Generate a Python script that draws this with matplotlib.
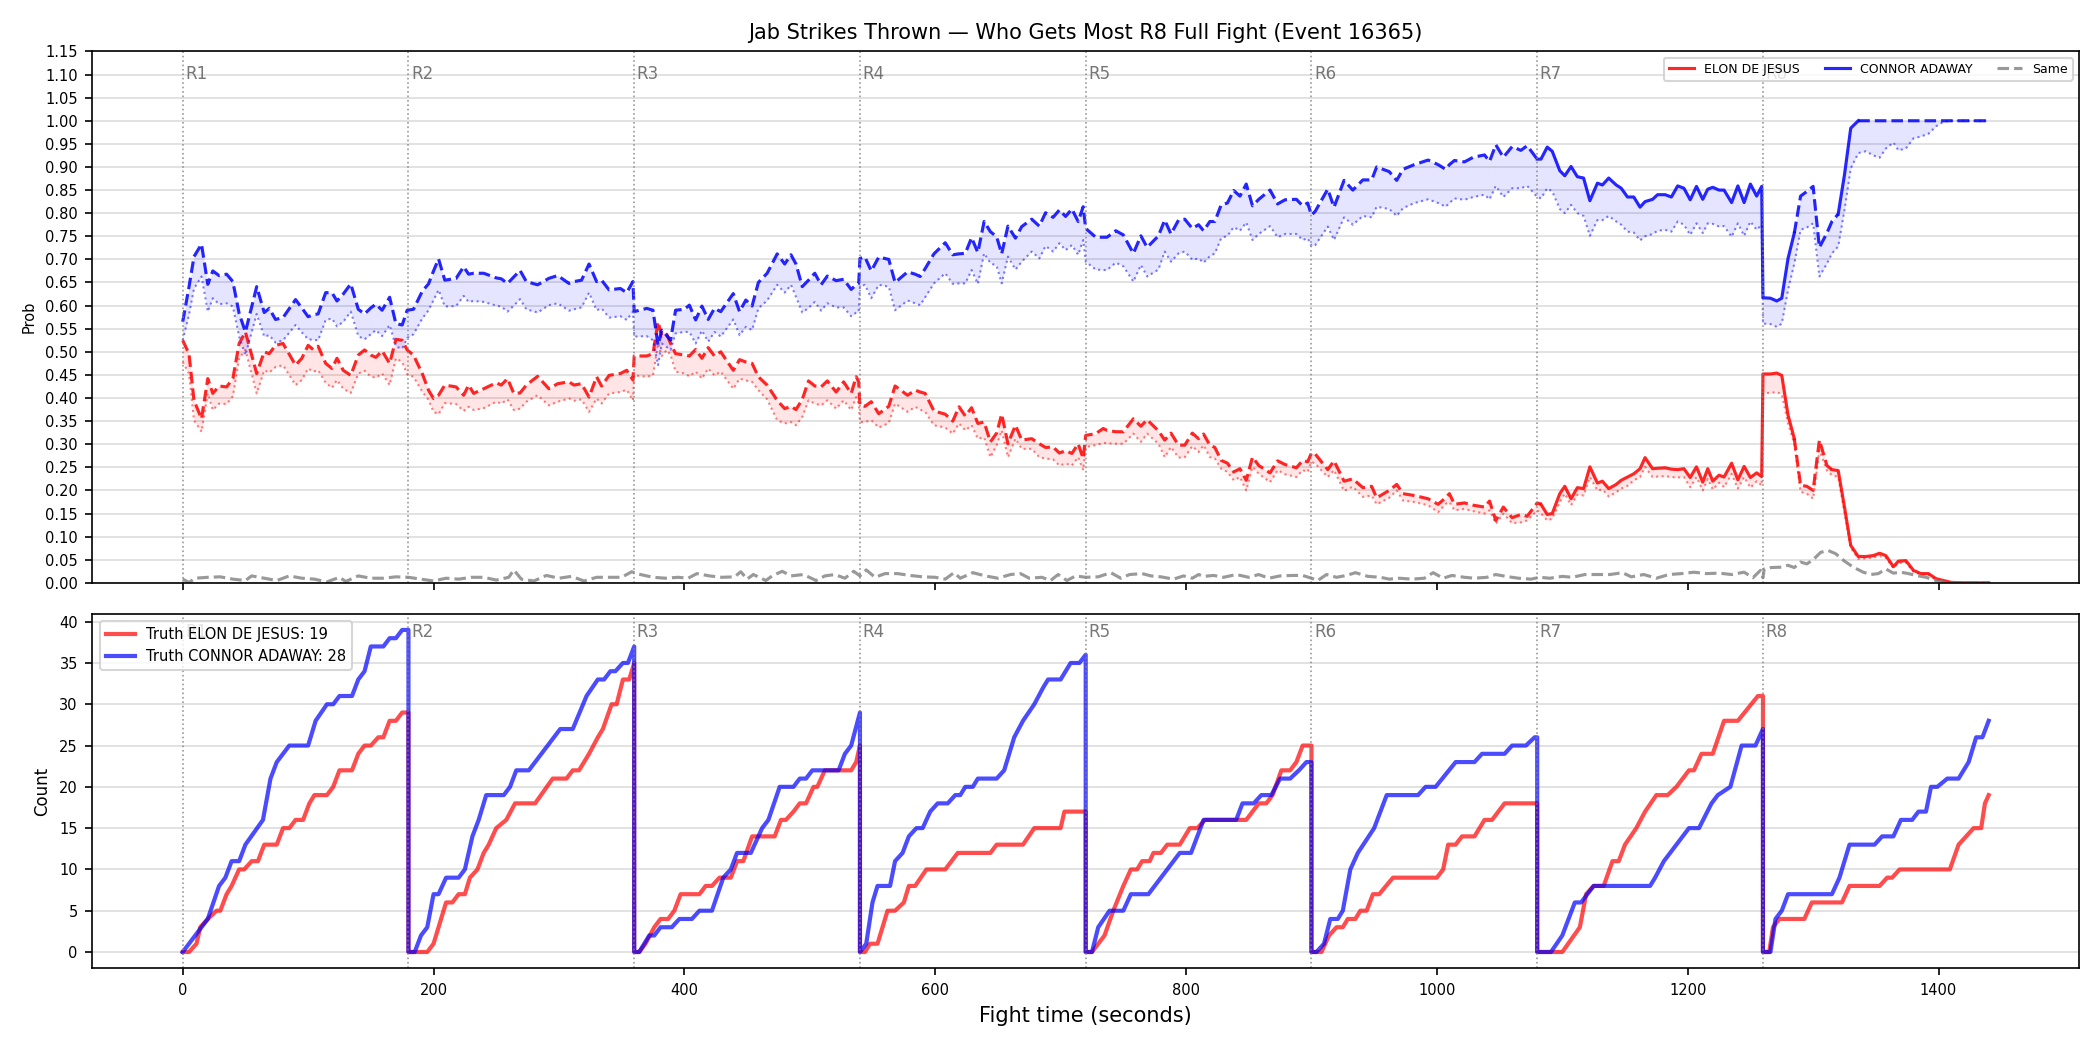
import numpy as np
import matplotlib
matplotlib.use("Agg")
import matplotlib.pyplot as plt
import matplotlib.transforms as mtransforms

# ---------------- data ----------------
red_name = "ELON DE JESUS"
blue_name = "CONNOR ADAWAY"
title = "Jab Strikes Thrown \u2014 Who Gets Most R8 Full Fight (Event 16365)"
round_starts = [0, 180, 360, 540, 720, 900, 1080, 1260]
round_labels = ["R1", "R2", "R3", "R4", "R5", "R6", "R7", "R8"]

# probability time grid (seconds)
t_prob = [0, 5, 9, 15, 20, 24, 29, 35, 40, 45, 50, 59, 65, 69, 74, 80, 90, 95, 100, 104,
          108, 114, 119, 123, 128, 134, 140, 145, 150, 154, 159, 165, 170, 175, 179, 184, 191, 196, 200, 204,
          209, 218, 224, 228, 232, 240, 250, 254, 259, 264, 269, 274, 283, 292, 299, 308, 312, 318, 324, 330,
          334, 340, 349, 354, 359, 360, 370, 375, 379, 382, 386, 389, 393, 400,
          404, 409, 414, 419, 424, 429, 439, 444, 449, 454, 459, 466, 474, 480, 485, 489, 494, 499, 504, 509,
          514, 521, 527, 533, 537, 539, 540, 544, 549, 555, 563, 568, 578, 584, 588, 592, 599, 608, 614, 619,
          624, 629, 634, 639, 644, 649, 653, 658, 664, 669, 677, 683, 688, 694, 699, 704, 709, 714, 718, 720,
          728, 734, 737, 744, 750, 758, 764, 769, 778, 783, 788, 794, 799, 805, 810,
          814, 819, 823, 828, 833, 838, 843, 848, 853, 858, 867, 873, 879, 888, 893, 897, 900, 903, 913, 918,
          926, 933, 941, 948, 952, 962, 968, 973, 982, 993, 1001, 1007, 1010, 1014, 1022, 1029, 1038, 1042, 1047, 1053,
          1060, 1067, 1072, 1080, 1083, 1088, 1092, 1098, 1102, 1107, 1112, 1117, 1122, 1128, 1132, 1137, 1143, 1147, 1152, 1157,
          1162, 1166, 1172, 1176, 1182, 1187, 1192, 1197, 1202, 1207, 1212, 1216,
          1220, 1225, 1229, 1235, 1240, 1245, 1250, 1255, 1259, 1260, 1266, 1271, 1275, 1280, 1285, 1290, 1295, 1300, 1305, 1311,
          1315, 1320, 1325, 1330, 1336, 1342, 1348, 1353, 1358, 1364, 1368, 1374, 1380, 1386, 1392, 1398, 1404, 1410, 1420, 1430, 1440]

blue_hi = [0.565, 0.640, 0.706, 0.733, 0.646, 0.675, 0.665, 0.668, 0.652, 0.583, 0.543, 0.641, 0.585, 0.594, 0.570, 0.574, 0.613, 0.595, 0.576, 0.580,
           0.582, 0.628, 0.628, 0.610, 0.625, 0.647, 0.592, 0.582, 0.595, 0.603, 0.590, 0.618, 0.561, 0.558, 0.590, 0.592, 0.631, 0.647, 0.675, 0.701,
           0.655, 0.659, 0.684, 0.668, 0.670, 0.670, 0.660, 0.658, 0.648, 0.662, 0.676, 0.652, 0.645, 0.659, 0.665, 0.648, 0.652, 0.655, 0.690, 0.652,
           0.655, 0.634, 0.637, 0.628, 0.652, 0.587, 0.594, 0.590, 0.514, 0.547, 0.535, 0.525, 0.590, 0.592,
           0.601, 0.569, 0.599, 0.570, 0.594, 0.587, 0.626, 0.587, 0.612, 0.599, 0.650, 0.670, 0.712, 0.690, 0.710, 0.690, 0.641, 0.655, 0.670, 0.645,
           0.664, 0.654, 0.657, 0.635, 0.645, 0.648, 0.702, 0.705, 0.675, 0.705, 0.700, 0.650, 0.673, 0.668, 0.663, 0.680, 0.712, 0.736, 0.710, 0.712,
           0.713, 0.747, 0.715, 0.782, 0.760, 0.749, 0.712, 0.772, 0.746, 0.771, 0.787, 0.772, 0.801, 0.791, 0.807, 0.793, 0.809, 0.782, 0.814, 0.767,
           0.748, 0.748, 0.748, 0.762, 0.753, 0.713, 0.751, 0.726, 0.751, 0.785, 0.755, 0.785, 0.787, 0.767, 0.775,
           0.762, 0.782, 0.782, 0.818, 0.822, 0.849, 0.837, 0.863, 0.816, 0.830, 0.850, 0.820, 0.829, 0.830, 0.816, 0.822, 0.796, 0.804, 0.852, 0.813,
           0.871, 0.850, 0.872, 0.872, 0.900, 0.890, 0.871, 0.895, 0.905, 0.915, 0.905, 0.895, 0.905, 0.914, 0.911, 0.921, 0.926, 0.912, 0.948, 0.921,
           0.944, 0.936, 0.946, 0.917, 0.917, 0.943, 0.934, 0.892, 0.881, 0.901, 0.879, 0.876, 0.827, 0.865, 0.861, 0.876, 0.861, 0.854, 0.835, 0.835,
           0.813, 0.825, 0.830, 0.840, 0.840, 0.835, 0.859, 0.854, 0.829, 0.858, 0.830, 0.852,
           0.856, 0.850, 0.850, 0.823, 0.859, 0.823, 0.863, 0.837, 0.858, 0.617, 0.616, 0.610, 0.616, 0.702, 0.757, 0.837, 0.847, 0.858, 0.726, 0.757,
           0.782, 0.798, 0.883, 0.984, 1.000, 1.000, 1.000, 1.000, 1.000, 1.000, 1.000, 1.000, 1.000, 1.000, 1.000, 1.000, 1.000, 1.000, 1.000, 1.000, 1.000]

blue_lo = [0.525, 0.580, 0.637, 0.663, 0.587, 0.616, 0.603, 0.605, 0.598, 0.533, 0.493, 0.582, 0.533, 0.536, 0.520, 0.525, 0.558, 0.542, 0.527, 0.526,
           0.525, 0.569, 0.572, 0.555, 0.565, 0.587, 0.534, 0.527, 0.538, 0.547, 0.534, 0.558, 0.511, 0.507, 0.530, 0.538, 0.572, 0.590, 0.612, 0.634,
           0.598, 0.599, 0.621, 0.608, 0.610, 0.608, 0.600, 0.598, 0.587, 0.600, 0.614, 0.592, 0.585, 0.601, 0.605, 0.589, 0.592, 0.596, 0.628, 0.590,
           0.594, 0.574, 0.577, 0.569, 0.587, 0.533, 0.534, 0.525, 0.471, 0.518, 0.510, 0.504, 0.540, 0.543,
           0.543, 0.518, 0.546, 0.522, 0.543, 0.533, 0.570, 0.536, 0.554, 0.547, 0.594, 0.611, 0.645, 0.628, 0.645, 0.619, 0.585, 0.595, 0.608, 0.589,
           0.605, 0.596, 0.596, 0.577, 0.585, 0.587, 0.641, 0.645, 0.616, 0.645, 0.641, 0.590, 0.611, 0.605, 0.601, 0.618, 0.648, 0.670, 0.647, 0.648,
           0.648, 0.677, 0.647, 0.713, 0.692, 0.686, 0.648, 0.706, 0.678, 0.695, 0.717, 0.702, 0.729, 0.717, 0.735, 0.720, 0.731, 0.710, 0.742, 0.695,
           0.678, 0.677, 0.677, 0.693, 0.685, 0.652, 0.688, 0.663, 0.678, 0.717, 0.695, 0.713, 0.717, 0.699, 0.702,
           0.693, 0.707, 0.713, 0.746, 0.751, 0.770, 0.762, 0.780, 0.742, 0.755, 0.772, 0.748, 0.755, 0.755, 0.742, 0.746, 0.729, 0.731, 0.771, 0.742,
           0.791, 0.775, 0.794, 0.791, 0.814, 0.809, 0.794, 0.811, 0.822, 0.830, 0.822, 0.814, 0.822, 0.832, 0.829, 0.835, 0.840, 0.830, 0.859, 0.835,
           0.854, 0.854, 0.859, 0.835, 0.832, 0.854, 0.847, 0.809, 0.800, 0.818, 0.800, 0.794, 0.751, 0.785, 0.785, 0.794, 0.782, 0.775, 0.760, 0.758,
           0.741, 0.750, 0.755, 0.762, 0.764, 0.760, 0.782, 0.775, 0.753, 0.778, 0.757, 0.778,
           0.777, 0.771, 0.772, 0.749, 0.778, 0.751, 0.782, 0.764, 0.775, 0.561, 0.560, 0.554, 0.561, 0.634, 0.691, 0.764, 0.769, 0.778, 0.663, 0.691,
           0.713, 0.728, 0.807, 0.897, 0.930, 0.934, 0.925, 0.920, 0.940, 0.953, 0.936, 0.940, 0.962, 0.966, 0.972, 0.988, 0.998, 1.000, 1.000, 1.000, 1.000]

red_hi = [0.525, 0.496, 0.395, 0.355, 0.442, 0.410, 0.426, 0.424, 0.442, 0.518, 0.543, 0.453, 0.500, 0.496, 0.514, 0.518, 0.471, 0.486, 0.514, 0.505,
          0.512, 0.475, 0.464, 0.486, 0.460, 0.449, 0.493, 0.504, 0.493, 0.488, 0.502, 0.475, 0.527, 0.525, 0.504, 0.493, 0.453, 0.417, 0.399, 0.406,
          0.428, 0.424, 0.406, 0.428, 0.410, 0.420, 0.433, 0.428, 0.442, 0.410, 0.411, 0.428, 0.447, 0.420, 0.431, 0.435, 0.428, 0.431, 0.402, 0.446,
          0.426, 0.449, 0.453, 0.460, 0.439, 0.491, 0.491, 0.496, 0.565, 0.534, 0.538, 0.518, 0.496, 0.493,
          0.491, 0.505, 0.486, 0.509, 0.491, 0.500, 0.460, 0.483, 0.478, 0.475, 0.446, 0.428, 0.395, 0.377, 0.382, 0.375, 0.397, 0.437, 0.426, 0.424,
          0.437, 0.413, 0.435, 0.410, 0.446, 0.435, 0.384, 0.382, 0.392, 0.366, 0.382, 0.426, 0.406, 0.417, 0.413, 0.410, 0.372, 0.365, 0.350, 0.381,
          0.361, 0.379, 0.345, 0.348, 0.305, 0.324, 0.365, 0.301, 0.341, 0.309, 0.312, 0.301, 0.293, 0.294, 0.281, 0.286, 0.280, 0.301, 0.269, 0.319,
          0.323, 0.334, 0.330, 0.327, 0.327, 0.355, 0.339, 0.353, 0.329, 0.309, 0.324, 0.298, 0.298, 0.324, 0.312,
          0.322, 0.298, 0.293, 0.265, 0.259, 0.240, 0.247, 0.222, 0.272, 0.254, 0.238, 0.264, 0.256, 0.249, 0.265, 0.262, 0.281, 0.279, 0.245, 0.264,
          0.220, 0.225, 0.206, 0.209, 0.184, 0.200, 0.213, 0.193, 0.189, 0.182, 0.170, 0.184, 0.193, 0.170, 0.173, 0.168, 0.164, 0.177, 0.135, 0.164,
          0.141, 0.148, 0.144, 0.173, 0.170, 0.148, 0.150, 0.193, 0.209, 0.182, 0.206, 0.204, 0.251, 0.216, 0.220, 0.204, 0.213, 0.222, 0.229, 0.236,
          0.247, 0.271, 0.247, 0.248, 0.249, 0.246, 0.245, 0.247, 0.228, 0.251, 0.218, 0.247,
          0.220, 0.233, 0.229, 0.259, 0.223, 0.252, 0.228, 0.238, 0.230, 0.452, 0.452, 0.454, 0.449, 0.363, 0.312, 0.211, 0.209, 0.200, 0.309, 0.254,
          0.245, 0.243, 0.164, 0.081, 0.057, 0.057, 0.059, 0.064, 0.059, 0.035, 0.047, 0.048, 0.027, 0.020, 0.020, 0.009, 0.005, 0.001, 0.000, 0.000, 0.000]

red_lo = [0.478, 0.453, 0.352, 0.327, 0.410, 0.374, 0.388, 0.387, 0.404, 0.486, 0.504, 0.410, 0.460, 0.455, 0.467, 0.471, 0.428, 0.439, 0.464, 0.457,
          0.460, 0.433, 0.422, 0.439, 0.420, 0.411, 0.453, 0.459, 0.446, 0.444, 0.453, 0.428, 0.486, 0.478, 0.451, 0.446, 0.414, 0.396, 0.370, 0.365,
          0.389, 0.387, 0.372, 0.381, 0.374, 0.378, 0.392, 0.388, 0.397, 0.374, 0.377, 0.392, 0.406, 0.384, 0.392, 0.399, 0.394, 0.397, 0.370, 0.399,
          0.388, 0.410, 0.413, 0.418, 0.395, 0.449, 0.446, 0.449, 0.518, 0.491, 0.504, 0.493, 0.457, 0.453,
          0.447, 0.457, 0.442, 0.464, 0.449, 0.457, 0.420, 0.442, 0.438, 0.435, 0.417, 0.397, 0.352, 0.345, 0.348, 0.341, 0.359, 0.395, 0.388, 0.384,
          0.395, 0.377, 0.395, 0.374, 0.402, 0.388, 0.348, 0.348, 0.352, 0.336, 0.346, 0.388, 0.370, 0.381, 0.375, 0.370, 0.341, 0.336, 0.323, 0.345,
          0.330, 0.341, 0.312, 0.315, 0.272, 0.298, 0.330, 0.272, 0.312, 0.290, 0.290, 0.272, 0.269, 0.267, 0.254, 0.258, 0.254, 0.272, 0.244, 0.294,
          0.298, 0.303, 0.302, 0.301, 0.301, 0.323, 0.305, 0.323, 0.301, 0.272, 0.294, 0.271, 0.272, 0.296, 0.283,
          0.298, 0.272, 0.269, 0.247, 0.240, 0.222, 0.229, 0.200, 0.251, 0.236, 0.218, 0.244, 0.235, 0.229, 0.244, 0.240, 0.262, 0.258, 0.229, 0.244,
          0.199, 0.208, 0.186, 0.189, 0.170, 0.184, 0.200, 0.178, 0.175, 0.168, 0.153, 0.171, 0.175, 0.157, 0.160, 0.155, 0.150, 0.157, 0.128, 0.150,
          0.129, 0.131, 0.135, 0.157, 0.150, 0.135, 0.139, 0.175, 0.193, 0.168, 0.191, 0.189, 0.229, 0.200, 0.202, 0.187, 0.196, 0.204, 0.210, 0.222,
          0.229, 0.251, 0.229, 0.230, 0.231, 0.229, 0.228, 0.229, 0.207, 0.229, 0.200, 0.225,
          0.202, 0.217, 0.207, 0.236, 0.204, 0.229, 0.206, 0.220, 0.211, 0.411, 0.411, 0.413, 0.408, 0.345, 0.301, 0.197, 0.193, 0.182, 0.287, 0.243,
          0.233, 0.229, 0.153, 0.076, 0.052, 0.053, 0.055, 0.058, 0.054, 0.032, 0.043, 0.044, 0.024, 0.018, 0.017, 0.007, 0.003, 0.000, 0.000, 0.000, 0.000]

# "Same" probability
t_same = [0, 5, 10, 20, 30, 40, 50, 55, 65, 75, 85, 95, 105, 115, 125, 130, 140, 150, 160, 170,
          180, 190, 200, 210, 220, 230, 240, 250, 260, 264, 270, 280, 290, 300, 310, 320, 330, 340, 350, 358,
          365, 375, 385, 395, 403, 410, 420, 430, 440, 445, 450, 455, 465, 470, 478, 485, 495, 505, 512, 520,
          528, 535, 540, 545, 552, 560, 570, 580, 590, 600, 608, 615, 620, 630, 640, 650, 660, 668, 675, 685,
          692, 698, 705, 712, 720, 730, 740, 748, 755, 765, 772, 780, 790, 798, 805, 810, 814, 822, 830, 840,
          850, 858, 866, 875, 885, 893, 900, 905, 912, 920, 928, 935, 945, 955, 962, 970, 980, 990, 997, 1005,
          1012, 1022, 1030, 1040, 1047, 1055, 1065, 1075, 1082, 1090, 1100, 1108, 1118, 1128, 1138, 1148, 1155, 1165, 1175, 1185,
          1195, 1205, 1215, 1225, 1235, 1245, 1252, 1258, 1260, 1261, 1266, 1275, 1280, 1285, 1290, 1295, 1300, 1306, 1312, 1318,
          1325, 1332, 1340, 1346, 1352, 1358, 1364, 1370, 1376, 1382, 1390, 1398, 1405, 1420, 1440]
same = [0.008, 0.001, 0.010, 0.012, 0.013, 0.008, 0.005, 0.015, 0.010, 0.005, 0.015, 0.010, 0.008, 0.002, 0.012, 0.003, 0.015, 0.010, 0.010, 0.013,
        0.012, 0.008, 0.004, 0.010, 0.008, 0.012, 0.012, 0.006, 0.012, 0.028, 0.008, 0.004, 0.016, 0.010, 0.014, 0.004, 0.012, 0.012, 0.012, 0.024,
        0.018, 0.012, 0.010, 0.012, 0.010, 0.020, 0.015, 0.012, 0.013, 0.024, 0.008, 0.018, 0.005, 0.015, 0.025, 0.015, 0.018, 0.005, 0.015, 0.018,
        0.010, 0.025, 0.015, 0.028, 0.012, 0.020, 0.020, 0.016, 0.013, 0.012, 0.008, 0.022, 0.010, 0.022, 0.015, 0.010, 0.018, 0.020, 0.010, 0.012,
        0.005, 0.018, 0.005, 0.015, 0.012, 0.013, 0.022, 0.010, 0.018, 0.020, 0.015, 0.013, 0.008, 0.015, 0.010, 0.018, 0.014, 0.016, 0.012, 0.018,
        0.012, 0.018, 0.010, 0.015, 0.016, 0.016, 0.010, 0.005, 0.018, 0.012, 0.016, 0.022, 0.014, 0.012, 0.008, 0.010, 0.008, 0.010, 0.022, 0.010,
        0.016, 0.012, 0.010, 0.012, 0.018, 0.014, 0.010, 0.008, 0.012, 0.010, 0.014, 0.012, 0.018, 0.018, 0.018, 0.022, 0.013, 0.018, 0.010, 0.018,
        0.020, 0.023, 0.020, 0.021, 0.018, 0.023, 0.011, 0.027, 0.011, 0.030, 0.033, 0.034, 0.038, 0.033, 0.045, 0.041, 0.050, 0.066, 0.070, 0.063,
        0.047, 0.034, 0.023, 0.018, 0.020, 0.030, 0.021, 0.023, 0.020, 0.016, 0.012, 0.005, 0.001, 0.000, 0.000]

# truth: cumulative jab counts, reset at each round start
t_truth_red = [0, 5, 11, 14, 20, 27, 30, 35, 39, 45, 49, 55, 60, 65, 75, 80, 85, 90, 96, 101, 105, 115, 120, 125, 135, 140, 145, 150, 156, 160, 165, 170, 175, 180,
               180, 195, 200, 206, 210, 215, 220, 225, 229, 235, 240, 244, 250, 258, 265, 281, 295, 306, 311, 316, 324, 331, 335, 342, 346, 351, 356, 360,
               360, 364, 369, 376, 381, 387, 392, 397, 412, 417, 422, 428, 437, 442, 447, 454, 472, 477, 481, 487, 492, 497, 503, 506, 512, 533, 537, 540,
               540, 544, 548, 554, 562, 568, 575, 579, 584, 593, 608, 618, 644, 649, 670, 679, 700, 703, 720,
               720, 725, 735, 742, 750, 756, 761, 765, 771, 774, 780, 785, 795, 803, 809, 815, 848, 858, 864, 869, 876, 883, 888, 893, 900,
               900, 908, 914, 920, 925, 929, 935, 939, 944, 949, 954, 965, 1000, 1005, 1009, 1015, 1020, 1030, 1038, 1044, 1054, 1080,
               1080, 1100, 1114, 1119, 1125, 1133, 1140, 1145, 1150, 1159, 1166, 1175, 1184, 1191, 1201, 1205, 1211, 1220, 1229, 1240, 1256, 1260,
               1260, 1265, 1268, 1273, 1293, 1299, 1323, 1329, 1353, 1359, 1363, 1369, 1409, 1416, 1422, 1428, 1434, 1437, 1440]
truth_red = [0, 0, 1, 3, 4, 5, 5, 7, 8, 10, 10, 11, 11, 13, 13, 15, 15, 16, 16, 18, 19, 19, 20, 22, 22, 24, 25, 25, 26, 26, 28, 28, 29, 29,
             0, 0, 1, 4, 6, 6, 7, 7, 9, 10, 12, 13, 15, 16, 18, 18, 21, 21, 22, 22, 24, 26, 27, 30, 30, 33, 33, 35,
             0, 0, 1, 3, 4, 4, 5, 7, 7, 8, 8, 9, 9, 11, 11, 14, 14, 16, 16, 17, 18, 18, 20, 20, 22, 22, 23, 25,
             0, 0, 1, 1, 5, 5, 6, 8, 8, 10, 10, 12, 12, 13, 13, 15, 15, 17, 17,
             0, 0, 2, 5, 8, 10, 10, 11, 11, 12, 12, 13, 13, 15, 15, 16, 16, 18, 18, 19, 22, 22, 23, 25, 25,
             0, 0, 2, 3, 3, 4, 4, 5, 5, 7, 7, 9, 9, 10, 13, 13, 14, 14, 16, 16, 18, 18,
             0, 0, 3, 7, 8, 8, 11, 11, 13, 15, 17, 19, 19, 20, 22, 22, 24, 24, 28, 28, 31, 31,
             0, 0, 3, 4, 4, 6, 6, 8, 8, 9, 9, 10, 10, 13, 14, 15, 15, 18, 19]

t_truth_blue = [0, 20, 29, 34, 39, 45, 50, 64, 70, 75, 85, 100, 106, 115, 120, 125, 135, 140, 145, 150, 160, 165, 170, 175, 180,
                180, 185, 190, 195, 200, 204, 210, 220, 225, 231, 236, 242, 256, 261, 266, 276, 301, 311, 322, 331, 336, 341, 345, 351, 355, 360,
                360, 364, 372, 376, 381, 390, 396, 406, 412, 422, 431, 437, 442, 453, 462, 467, 476, 487, 492, 497, 502, 523, 528, 533, 540,
                540, 545, 550, 554, 564, 568, 574, 579, 585, 590, 596, 602, 610, 616, 620, 624, 630, 634, 649, 655, 663, 670, 679, 686, 690, 700, 708, 715, 720,
                720, 725, 730, 739, 750, 756, 770, 795, 804, 814, 840, 845, 854, 860, 868, 875, 883, 890, 896, 900,
                900, 904, 910, 915, 921, 925, 931, 937, 950, 960, 985, 991, 999, 1015, 1030, 1036, 1054, 1060, 1071, 1078, 1080,
                1080, 1091, 1100, 1110, 1115, 1125, 1170, 1174, 1181, 1201, 1209, 1219, 1224, 1234, 1243, 1254, 1260,
                1260, 1266, 1270, 1275, 1280, 1315, 1321, 1329, 1349, 1355, 1364, 1370, 1379, 1384, 1390, 1394, 1399, 1407, 1416, 1424, 1430, 1435, 1440]
truth_blue = [0, 4, 8, 9, 11, 11, 13, 16, 21, 23, 25, 25, 28, 30, 30, 31, 31, 33, 34, 37, 37, 38, 38, 39, 39,
              0, 0, 2, 3, 7, 7, 9, 9, 10, 14, 16, 19, 19, 20, 22, 22, 27, 27, 31, 33, 33, 34, 34, 35, 35, 37,
              0, 0, 2, 2, 3, 3, 4, 4, 5, 5, 9, 10, 12, 12, 15, 16, 20, 20, 21, 21, 22, 22, 24, 25, 29,
              0, 1, 6, 8, 8, 11, 12, 14, 15, 15, 17, 18, 18, 19, 19, 20, 20, 21, 21, 22, 26, 28, 30, 32, 33, 33, 35, 35, 36,
              0, 0, 3, 5, 5, 7, 7, 12, 12, 16, 16, 18, 18, 19, 19, 21, 21, 22, 23, 23,
              0, 0, 1, 4, 4, 5, 10, 12, 15, 19, 19, 20, 20, 23, 23, 24, 24, 25, 25, 26, 26,
              0, 0, 2, 6, 6, 8, 8, 9, 11, 15, 15, 18, 19, 20, 25, 25, 27,
              0, 0, 4, 5, 7, 7, 9, 13, 13, 14, 14, 16, 16, 17, 17, 20, 20, 21, 21, 23, 26, 26, 28]

# where the model line is drawn solid instead of dashed
red_solid_spans = [(1083, 1285), (1315, 1440)]
blue_solid_spans = [(1080, 1285), (1320, 1336)]


def split_solid(t, y, spans):
    t = np.asarray(t, float)
    y = np.asarray(y, float)
    solid = np.zeros(len(t), bool)
    for a, b in spans:
        solid |= (t >= a) & (t <= b)
    dashed = ~solid
    # keep the joining points in both so the line has no gaps
    join = np.zeros(len(t), bool)
    join[:-1] |= solid[:-1] & dashed[1:]
    join[1:] |= solid[1:] & dashed[:-1]
    return np.where(solid, y, np.nan), np.where(dashed | join, y, np.nan)


RED = "#ff0000"
BLUE = "#0000ff"

fig, (ax1, ax2) = plt.subplots(2, 1, figsize=(14, 7), dpi=150, sharex=True,
                               gridspec_kw={"height_ratios": [3, 2]})
fig.subplots_adjust(left=0.044, right=0.99, top=0.951, bottom=0.078, hspace=0.07)

# ---------------- top: probabilities ----------------
for hi, lo, col, spans in [(red_hi, red_lo, RED, red_solid_spans),
                           (blue_hi, blue_lo, BLUE, blue_solid_spans)]:
    ax1.fill_between(t_prob, lo, hi, color=col, alpha=0.1, linewidth=0)
    ax1.plot(t_prob, lo, color=col, linestyle=":", linewidth=1, alpha=0.5)
    y_solid, y_dash = split_solid(t_prob, hi, spans)
    ax1.plot(t_prob, y_dash, color=col, linestyle="--", linewidth=1.5, alpha=0.85)
    ax1.plot(t_prob, y_solid, color=col, linestyle="-", linewidth=1.5, alpha=0.85)

ax1.plot(t_same, same, color="gray", linestyle="--", linewidth=1.5, alpha=0.8)

ax1.set_ylim(0, 1.15)
ax1.set_yticks(np.arange(0, 1.151, 0.05))
ax1.set_ylabel("Prob", fontsize=7)
ax1.tick_params(axis="both", labelsize=7)
ax1.grid(axis="y", color="#dddddd", linewidth=0.8)
ax1.set_axisbelow(True)
ax1.set_title(title, fontsize=10)

handles = [plt.Line2D([], [], color=RED, linewidth=1.5, alpha=0.85),
           plt.Line2D([], [], color=BLUE, linewidth=1.5, alpha=0.85),
           plt.Line2D([], [], color="gray", linestyle="--", linewidth=1.5, alpha=0.8)]
ax1.legend(handles, [red_name, blue_name, "Same"], loc="upper right", ncol=3, fontsize=6)

# ---------------- bottom: truth counts ----------------
ax2.plot(t_truth_red, truth_red, color=RED, linewidth=2, alpha=0.7,
         label=f"Truth {red_name}: {truth_red[-1]}")
ax2.plot(t_truth_blue, truth_blue, color=BLUE, linewidth=2, alpha=0.7,
         label=f"Truth {blue_name}: {truth_blue[-1]}")
ax2.set_ylabel("Count", fontsize=8)
ax2.set_xlabel("Fight time (seconds)", fontsize=10)
ax2.tick_params(axis="both", labelsize=7)
ax2.grid(axis="y", color="#dddddd", linewidth=0.8)
ax2.set_axisbelow(True)

# round markers
for ax in (ax1, ax2):
    trans = mtransforms.blended_transform_factory(ax.transData, ax.transAxes)
    for x, lab in zip(round_starts, round_labels):
        ax.axvline(x, color="gray", linestyle=":", linewidth=0.8, alpha=0.8)
        ax.text(x + 2, 0.975, lab, transform=trans, va="top", ha="left",
                fontsize=8, color="#555555", alpha=0.8)

ax2.legend(loc="upper left", fontsize=7)

fig.savefig("out.png", dpi=150)
